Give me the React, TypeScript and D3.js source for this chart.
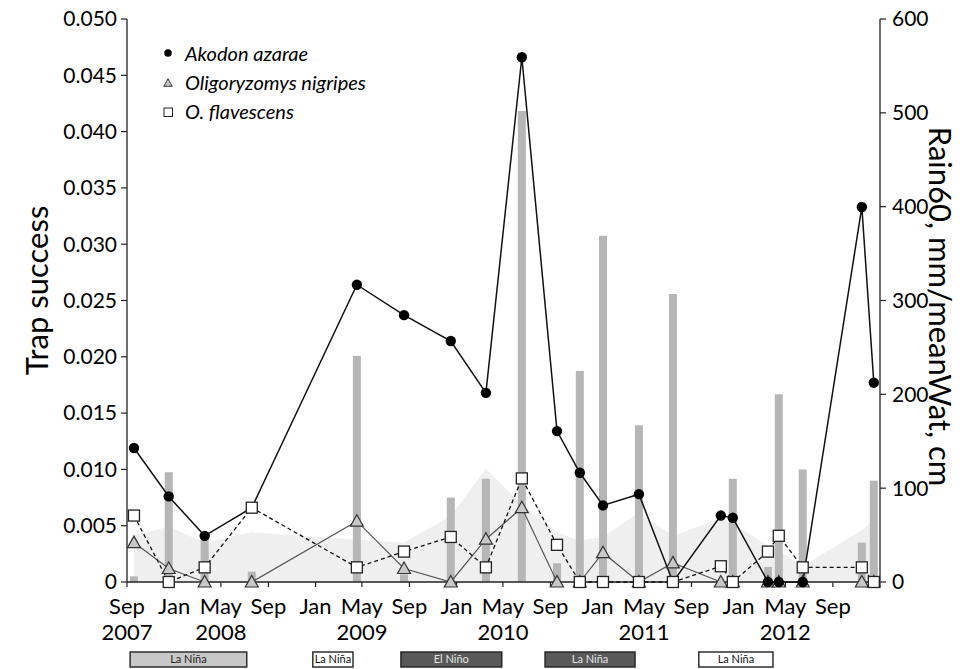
import React from 'react';
import * as d3 from 'd3';

// ---- data ----
const sampleDates = [
  '2007-09-19', '2007-12-18', '2008-03-20', '2008-07-20', '2009-04-18', '2009-08-18',
  '2009-12-17', '2010-03-18', '2010-06-19', '2010-09-18', '2010-11-16', '2011-01-15',
  '2011-04-18', '2011-07-15', '2011-11-16', '2011-12-17', '2012-03-17', '2012-04-14',
  '2012-06-15', '2012-11-15', '2012-12-16',
];
const akodonAzarae = [
  0.0119, 0.0076, 0.0041, 0.0066, 0.0264, 0.0237, 0.0214, 0.0168, 0.0466, 0.0134, 0.0097,
  0.0068, 0.0078, 0, 0.0059, 0.0057, 0, 0, 0, 0.0333, 0.0177,
];
const oligoryzomysNigripes = [
  0.0035, 0.0012, 0, 0, 0.0054, 0.0012, 0, 0.0038, 0.0066, 0, 0, 0.0026, 0, 0.0017, 0, 0,
  0, 0, 0, 0, 0,
];
const oFlavescens = [
  0.0059, 0, 0.0013, 0.0066, 0.0013, 0.0027, 0.004, 0.0013, 0.0092, 0.0033, 0, 0, 0, 0,
  0.0014, 0, 0.0027, 0.0041, 0.0013, 0.0013, 0,
];
const rain60 = [
  6, 117, 47, 11, 241, 8, 90, 110, 502, 20, 225, 369, 167, 307, 0, 110, 16, 200, 120, 42, 108,
];
const meanWat = [
  50, 59, 42, 53, 45, 42, 70, 121, 82, 53, 44, 48, 74, 49, 68, 62, 39, 33, 17, 55, 66,
];

const leftTicks = [0, 0.005, 0.01, 0.015, 0.02, 0.025, 0.03, 0.035, 0.04, 0.045, 0.05];
const rightTicks = [0, 100, 200, 300, 400, 500, 600];
const xTickDates = [
  '2007-09-01', '2008-01-01', '2008-05-01', '2008-09-01', '2009-01-01', '2009-05-01',
  '2009-09-01', '2010-01-01', '2010-05-01', '2010-09-01', '2011-01-01', '2011-05-01',
  '2011-09-01', '2012-01-01', '2012-05-01', '2012-09-01', '2013-01-01',
];
const xTickMonths = ['Sep', 'Jan', 'May', 'Sep', 'Jan', 'May', 'Sep', 'Jan', 'May', 'Sep', 'Jan', 'May', 'Sep', 'Jan', 'May', 'Sep', ''];
const xTickYears = ['2007', '', '2008', '', '', '2009', '', '', '2010', '', '', '2011', '', '', '2012', '', ''];

const ensoLabels = ['La Niña', 'La Niña', 'El Niño', 'La Niña', 'La Niña'];
const ensoStarts = ['2007-09-09', '2008-12-25', '2009-08-10', '2010-08-18', '2011-09-20'];
const ensoEnds = ['2008-07-07', '2009-04-08', '2010-04-28', '2011-04-08', '2012-03-30'];
const ensoKinds = ['medium', 'weak', 'strong', 'strong', 'weak'];

const seriesNames = ['Akodon azarae', 'Oligoryzomys nigripes', 'O. flavescens'];

// ---- styles ----
const FONT = 'Lato, "Open Sans", sans-serif';
const ensoFill: Record<string, string> = { medium: '#c8c8c8', weak: '#ffffff', strong: '#595959' };
const ensoText: Record<string, string> = { medium: '#222', weak: '#111', strong: '#e6e6e6' };

const W = 968;
const H = 669;
const X0 = 127;
const X1 = 880;
const Y0 = 582;
const Y1 = 19;

const parse = d3.timeParse('%Y-%m-%d');

export default function App() {
  const dates = sampleDates.map((s) => parse(s) as Date);
  const x = d3.scaleTime().domain([new Date(2007, 8, 1), new Date(2013, 0, 1)]).range([X0, X1]);
  const yL = d3.scaleLinear().domain([0, 0.05]).range([Y0, Y1]);
  const yR = d3.scaleLinear().domain([0, 600]).range([Y0, Y1]);

  const area = d3
    .area<number>()
    .x((_, i) => x(dates[i]))
    .y0(yR(0))
    .y1((d) => yR(d));

  const line = d3
    .line<number>()
    .x((_, i) => x(dates[i]))
    .y((d) => yL(d));

  const tri = (cx: number, cy: number, s = 1) =>
    `M${cx},${cy - 6.5 * s}L${cx + 6.5 * s},${cy + 5 * s}L${cx - 6.5 * s},${cy + 5 * s}Z`;

  const fmtL = (v: number) => (v === 0 ? '0' : d3.format('.3f')(v));

  return (
    <svg
      width={W}
      height={H}
      viewBox={`0 0 ${W} ${H}`}
      style={{ position: 'absolute', left: 0, top: 0, background: '#fff' }}
      fontFamily={FONT}
    >
      <rect x={0} y={0} width={W} height={H} fill="#fff" />
      {/* meanWat area */}
      <path d={area(meanWat) || ''} fill="#efefef" />
      {/* Rain60 bars */}
      {rain60.map((v, i) =>
        v > 0 ? (
          <rect key={'b' + i} x={x(dates[i]) - 4} y={yR(v)} width={8} height={yR(0) - yR(v)} fill="#b6b6b6" />
        ) : null
      )}

      {/* axes */}
      <line x1={X0} y1={Y1} x2={X0} y2={Y0} stroke="#222" strokeWidth={1.3} />
      <line x1={X1} y1={Y1} x2={X1} y2={Y0} stroke="#222" strokeWidth={1.3} />
      <line x1={X0} y1={Y0} x2={X1} y2={Y0} stroke="#222" strokeWidth={1.3} />
      {leftTicks.map((t) => (
        <g key={'l' + t}>
          <line x1={X0 - 6} x2={X0} y1={yL(t)} y2={yL(t)} stroke="#222" strokeWidth={1.2} />
          <text x={X0 - 10} y={yL(t)} dy="0.35em" textAnchor="end" fontSize={21}>
            {fmtL(t)}
          </text>
        </g>
      ))}
      {rightTicks.map((t) => (
        <g key={'r' + t}>
          <line x1={X1} x2={X1 + 6} y1={yR(t)} y2={yR(t)} stroke="#222" strokeWidth={1.2} />
          <text x={X1 + 12} y={yR(t)} dy="0.35em" textAnchor="start" fontSize={21}>
            {t}
          </text>
        </g>
      ))}
      {xTickDates.map((s, i) => {
        const xx = x(parse(s) as Date);
        return (
          <g key={'x' + i}>
            <line x1={xx} x2={xx} y1={Y0} y2={Y0 + 5} stroke="#222" strokeWidth={1.2} />
            <text x={xx} y={614} textAnchor="middle" fontSize={22}>
              {xTickMonths[i]}
            </text>
            <text x={xx} y={640} textAnchor="middle" fontSize={22}>
              {xTickYears[i]}
            </text>
          </g>
        );
      })}

      {/* axis titles */}
      <text transform={`translate(48,${(Y0 + Y1) / 2 - 10}) rotate(-90)`} textAnchor="middle" fontSize={31}>
        Trap success
      </text>
      <text transform={`translate(929,${(Y0 + Y1) / 2 + 6}) rotate(90)`} textAnchor="middle" fontSize={31}>
        Rain60, mm/meanWat, cm
      </text>

      {/* lines */}
      <path d={line(oligoryzomysNigripes) || ''} fill="none" stroke="#555" strokeWidth={1.2} />
      <path d={line(oFlavescens) || ''} fill="none" stroke="#111" strokeWidth={1.3} strokeDasharray="4,3" />
      <path d={line(akodonAzarae) || ''} fill="none" stroke="#111" strokeWidth={1.5} />

      {/* markers */}
      {oligoryzomysNigripes.map((v, i) => (
        <path key={'t' + i} d={tri(x(dates[i]), yL(v))} fill="#c8c8c8" stroke="#333" strokeWidth={1.2} />
      ))}
      {akodonAzarae.map((v, i) => (
        <circle key={'c' + i} cx={x(dates[i])} cy={yL(v)} r={5.2} fill="#000" />
      ))}
      {oFlavescens.map((v, i) => (
        <rect key={'s' + i} x={x(dates[i]) - 5.5} y={yL(v) - 5.5} width={11} height={11} fill="#fff" stroke="#222" strokeWidth={1.3} />
      ))}

      {/* legend */}
      <g>
        <circle cx={168} cy={53} r={3.8} fill="#000" />
        <path d={tri(168, 83, 0.65)} fill="#c8c8c8" stroke="#333" strokeWidth={1} />
        <rect x={164} y={108} width={8.5} height={8.5} fill="#fff" stroke="#222" strokeWidth={1} />
        {seriesNames.map((n, i) => (
          <text key={'lg' + i} x={185} y={54 + i * 29} dy="0.35em" fontSize={20} fontStyle="italic">
            {n}
          </text>
        ))}
      </g>

      {/* ENSO phases */}
      {ensoLabels.map((lab, i) => {
        const xa = x(parse(ensoStarts[i]) as Date);
        const xb = x(parse(ensoEnds[i]) as Date);
        return (
          <g key={'e' + i}>
            <rect x={xa} y={652} width={xb - xa} height={15} fill={ensoFill[ensoKinds[i]]} stroke="#222" strokeWidth={1.4} />
            <text x={(xa + xb) / 2} y={659.5} dy="0.35em" textAnchor="middle" fontSize={11} fill={ensoText[ensoKinds[i]]}>
              {lab}
            </text>
          </g>
        );
      })}
    </svg>
  );
}
